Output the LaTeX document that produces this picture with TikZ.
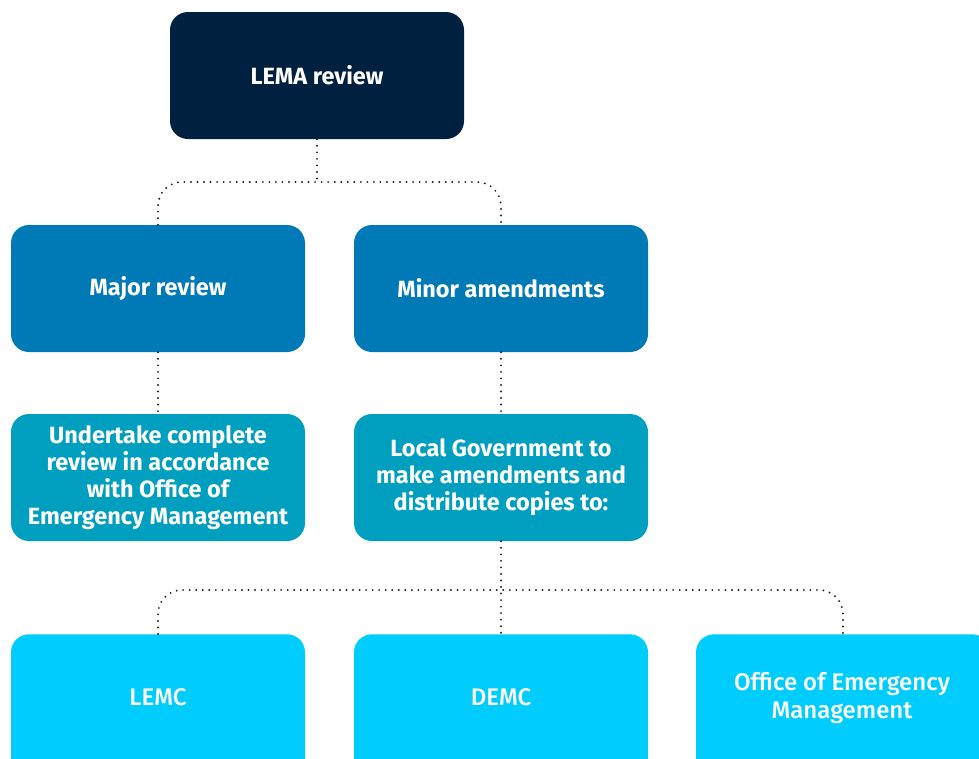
\documentclass[tikz,border=0pt]{standalone}
\usepackage{fontspec}
\setmainfont{Fira Sans}
\newfontfamily\medfont{Fira Sans Medium}
\definecolor{navyc}{HTML}{00203F}
\definecolor{midc}{HTML}{0079B7}
\definecolor{tealc}{HTML}{009FBF}
\definecolor{cyanc}{HTML}{00CCFE}
\definecolor{dotc}{HTML}{222222}
\begin{document}
\begin{tikzpicture}[x=0.75pt,y=-0.75pt,
  box/.style={rectangle, rounded corners=13.5pt, minimum width=220.5pt, minimum height=95.25pt,
    inner sep=0pt, text=white, align=center, font=\fontsize{17.6}{20.25}\selectfont\bfseries},
  lowbox/.style={rectangle, rounded corners=13.5pt, minimum width=220.5pt, minimum height=112.5pt,
    inner sep=0pt, anchor=north, fill=cyanc},
  lowtxt/.style={text=white, align=center, inner sep=0pt, font=\fontsize{18}{20.5}\selectfont\medfont},
  conn/.style={draw=dotc, line width=1.6pt, line cap=round, dash pattern=on 0pt off 4.9pt, rounded corners=18pt}]
\useasboundingbox (0,0) rectangle (979,758);
\clip (0,0) rectangle (979,758);
\node[box, fill=navyc] (lema) at (317,75.5) {LEMA review};
\node[box, fill=midc] (major) at (158,288.5) {Major review};
\node[box, fill=midc] (minor) at (501,288.5) {Minor amendments};
\node[box, fill=tealc] (undertake) at (158,477.5) {Undertake complete\\review in accordance\\with Office of\\Emergency Management};
\node[box, fill=tealc] (local) at (501,477.5) {Local Government to\\make amendments and\\distribute copies to:};
\node[lowbox] (lemc) at (158,634) {};
\node[lowbox] (demc) at (501,634) {};
\node[lowbox] (oem) at (843,634) {};
\node[lowtxt] (lemct) at (158,697) {LEMC};
\node[lowtxt] (demct) at (501,697) {DEMC};
\node[lowtxt] (oemt) at (842,698) {Office of Emergency\\Management};
\coordinate (j1) at (317,182);
\coordinate (j2) at (501,590);
\draw[conn] (lema.south) -- (j1);
\draw[conn] (major.north) |- (j1) -| (minor.north);
\draw[conn] (major.south) -- (undertake.north);
\draw[conn] (minor.south) -- (local.north);
\draw[conn] (local.south) -- (demc.north);
\draw[conn] (lemc.north) |- (j2) -| (oem.north);
\end{tikzpicture}
\end{document}
